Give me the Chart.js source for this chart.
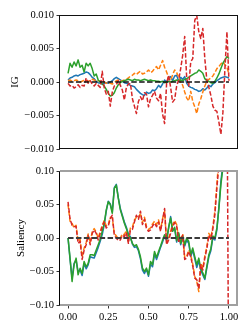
<!DOCTYPE html>
<html><head><meta charset="utf-8">
<script src="https://cdn.jsdelivr.net/npm/chart.js@4"></script>
<style>
html,body{margin:0;padding:0;background:#fff;}
#wrap{position:relative;width:249px;height:332px;overflow:hidden;}
canvas{position:absolute;left:0;}
#c1{top:0;width:249px;height:160px;}
#c2{top:160px;width:249px;height:172px;}
</style></head><body>
<div id="wrap"><canvas id="c1" width="249" height="160"></canvas><canvas id="c2" width="249" height="172"></canvas></div>
<script>
const xs=[0,0.0125,0.025,0.0375,0.05,0.0625,0.075,0.0875,0.1,0.1125,0.125,0.1375,0.15,0.1625,0.175,0.1875,0.2,0.2125,0.225,0.2375,0.25,0.2625,0.275,0.2875,0.3,0.3125,0.325,0.3375,0.35,0.3625,0.375,0.3875,0.4,0.4125,0.425,0.4375,0.45,0.4625,0.475,0.4875,0.5,0.5125,0.525,0.5375,0.55,0.5625,0.575,0.5875,0.6,0.6125,0.625,0.6375,0.65,0.6625,0.675,0.6875,0.7,0.7125,0.725,0.7375,0.75,0.7625,0.775,0.7875,0.8,0.8125,0.825,0.8375,0.85,0.8625,0.875,0.8875,0.9,0.9125,0.925,0.9375,0.95,0.9625,0.975,0.9875,1];

const igBlue=[0.0003,0.0006,0.0007,0.0009,0.0010,0.0009,0.0011,0.0012,0.0013,0.0015,
0.0014,0.0011,0.0007,0.0005,0.0001,-0.0001,-0.0002,-0.0003,-0.0002,-0.0001,
-0.0002,0.0000,0.0002,0.0005,0.0007,0.0005,0.0003,0.0001,-0.0001,-0.0002,
-0.0003,-0.0005,-0.0006,-0.0007,-0.0011,-0.0014,-0.0017,-0.0019,-0.0020,-0.0015,
-0.0017,-0.0016,-0.0012,-0.0013,-0.0010,-0.0005,-0.0008,-0.0003,0.0003,0.0000,
0.0006,0.0008,0.0002,0.0009,0.0010,0.0001,0.0007,0.0004,0.0008,-0.0002,
-0.0006,-0.0008,-0.0009,-0.0011,-0.0012,-0.0014,-0.0013,-0.0010,-0.0012,-0.0009,
-0.0005,-0.0007,-0.0003,-0.0001,0.0002,0.0004,0.0006,0.0007,0.0008,0.0007,
0.0006];
const igOrange=[0.0002,0.0003,0.0001,0.0002,0.0003,0.0002,0.0000,0.0001,0.0003,0.0002,
0.0001,0.0002,0.0004,0.0003,0.0001,0.0002,0.0001,-0.0001,0.0000,-0.0002,
-0.0001,-0.0002,-0.0003,-0.0001,0.0002,0.0003,0.0001,0.0002,0.0003,0.0004,
0.0006,0.0009,0.0010,0.0013,0.0011,0.0014,0.0016,0.0012,0.0013,0.0015,
0.0018,0.0014,0.0016,0.0020,0.0023,0.0018,0.0025,0.0032,0.0022,0.0015,
0.0006,0.0002,0.0011,0.0018,0.0014,0.0007,0.0000,-0.0005,-0.0015,-0.0024,
-0.0028,-0.0014,-0.0029,-0.0037,-0.0047,-0.0033,-0.0025,-0.0015,-0.0006,0.0001,
0.0004,0.0006,0.0009,0.0014,0.0020,0.0023,0.0027,0.0030,0.0026,0.0022,
0.0012];
const igGreen=[0.0013,0.0028,0.0022,0.0030,0.0024,0.0033,0.0022,0.0025,0.0015,0.0028,
0.0024,0.0028,0.0020,0.0009,0.0012,0.0003,0.0000,-0.0003,-0.0006,-0.0011,
-0.0017,-0.0021,-0.0020,-0.0016,-0.0009,-0.0004,-0.0001,0.0001,0.0002,0.0003,
0.0004,0.0003,0.0002,0.0004,0.0003,0.0003,0.0002,0.0003,0.0004,0.0003,
0.0002,0.0003,0.0002,0.0002,0.0001,0.0001,0.0000,0.0001,-0.0001,0.0000,
0.0001,0.0000,0.0001,0.0002,0.0003,0.0002,0.0003,0.0002,0.0004,0.0005,
0.0007,0.0009,0.0011,0.0013,0.0014,0.0018,0.0016,0.0013,0.0005,0.0002,
0.0001,-0.0001,-0.0002,0.0001,0.0006,0.0012,0.0020,0.0028,0.0033,0.0038,
0.0035];
const igRed=[-0.0002,-0.0006,-0.0005,-0.0009,-0.0007,-0.0004,-0.0008,-0.0005,-0.0006,0.0006,
-0.0002,0.0002,-0.0003,-0.0006,-0.0002,-0.0005,-0.0008,0.0016,-0.0009,-0.0018,
-0.0014,-0.0036,-0.0015,-0.0006,-0.0004,0.0002,-0.0005,-0.0012,-0.0027,-0.0008,
-0.0003,-0.0002,-0.0025,-0.0036,-0.0047,-0.0029,-0.0022,-0.0028,-0.0016,-0.0018,
-0.0037,-0.0025,-0.0020,-0.0014,-0.0024,-0.0028,-0.0017,-0.0048,-0.0062,-0.0002,
0.0010,-0.0008,-0.0030,-0.0026,-0.0006,0.0003,0.0020,0.0040,0.0068,0.0005,
-0.0006,0.0030,0.0035,0.0092,0.0099,0.0075,0.0065,0.0080,0.0035,0.0003,
-0.0008,-0.0020,-0.0036,-0.0042,-0.0044,-0.0060,-0.0078,-0.0045,0.0020,0.0075,
0.0002];

const salBlue=[0.000,-0.032,-0.060,-0.038,-0.033,-0.050,-0.048,-0.056,-0.038,-0.046,
-0.040,-0.028,-0.029,-0.030,-0.022,-0.014,-0.005,0.005,0.020,0.040,
0.055,0.051,0.039,0.075,0.080,0.060,0.044,0.034,0.024,0.016,
0.006,0.002,-0.009,-0.014,-0.013,-0.019,-0.031,-0.048,-0.053,-0.047,
-0.057,-0.039,-0.043,-0.024,-0.032,-0.023,-0.014,-0.006,0.003,-0.004,
0.014,0.032,0.012,0.014,-0.006,0.006,-0.010,0.001,-0.012,-0.003,
-0.008,-0.028,-0.018,-0.031,-0.044,-0.034,-0.048,-0.055,-0.062,-0.045,
-0.028,-0.019,0.000,-0.003,0.012,0.046,0.085,0.110,0.135,0.165,
0.205];
const salOrange=[0.050,0.025,0.022,0.015,0.019,-0.005,-0.002,-0.028,-0.015,-0.007,
0.006,-0.007,0.009,0.014,0.009,0.000,0.010,0.019,0.026,0.018,
0.020,0.031,0.030,0.007,0.003,-0.001,0.000,0.006,0.005,0.011,
-0.005,0.015,0.016,0.027,0.031,0.030,0.037,0.023,0.031,0.017,
0.013,0.015,0.021,0.025,0.020,0.027,0.013,0.029,0.040,-0.007,
0.000,0.010,0.020,0.026,0.020,-0.002,-0.001,0.006,-0.029,-0.027,
-0.018,-0.025,-0.039,-0.057,-0.065,-0.080,-0.038,-0.045,-0.027,-0.013,
0.007,0.001,0.017,0.040,0.080,0.120,0.160,0.190,0.230,0.260,
0.280];
const salGreen=[0.000,-0.030,-0.065,-0.040,-0.030,-0.055,-0.045,-0.053,-0.035,-0.043,
-0.038,-0.025,-0.025,-0.026,-0.018,-0.010,-0.002,0.010,0.022,0.042,
0.054,0.050,0.037,0.074,0.079,0.059,0.042,0.032,0.022,0.014,
0.004,0.000,-0.008,-0.012,-0.010,-0.017,-0.028,-0.045,-0.050,-0.045,
-0.055,-0.035,-0.040,-0.020,-0.029,-0.020,-0.012,-0.003,0.005,-0.002,
0.016,0.030,0.010,0.016,-0.004,0.008,-0.008,0.003,-0.010,0.000,
-0.005,-0.025,-0.015,-0.028,-0.040,-0.030,-0.046,-0.052,-0.060,-0.042,
-0.025,-0.016,0.003,0.000,0.015,0.044,0.080,0.105,0.130,0.160,
0.200];
const salRed=[0.054,0.028,0.019,0.017,0.017,-0.008,-0.005,-0.032,-0.018,-0.010,
0.004,-0.010,0.007,0.012,0.007,-0.003,0.007,0.017,0.024,0.015,
0.018,0.029,0.034,0.004,0.000,-0.004,-0.003,0.004,0.002,0.008,
-0.008,0.012,0.013,0.024,0.034,0.028,0.040,0.020,0.028,0.014,
0.010,0.012,0.018,0.022,0.017,0.024,0.010,0.027,0.044,-0.010,
-0.003,0.007,0.017,0.023,0.018,-0.005,-0.004,0.004,-0.032,-0.030,
-0.020,-0.028,-0.042,-0.060,-0.062,-0.076,-0.040,-0.048,-0.030,-0.016,
0.004,-0.002,0.014,0.035,0.075,0.110,0.160,0.180,0.220,0.250,
-0.300];

const igTicks=[-0.010,-0.005,0.000,0.005,0.010];
const igTickLabels=['\u22120.010','\u22120.005','0.000','0.005','0.010'];
const salTicks=[-0.10,-0.05,0.00,0.05,0.10];
const salTickLabels=['\u22120.10','\u22120.05','0.00','0.05','0.10'];
const xTicks=[0,0.25,0.5,0.75,1];
const xTickLabels=['0.00','0.25','0.50','0.75','1.00'];
const zeroX=[0,1];
const zeroY=[0,0];

Chart.defaults.font.family="'Liberation Serif','DejaVu Serif',serif";
Chart.defaults.font.size=10.5;
Chart.defaults.color='#000';

function pts(ys){return ys.map((y,i)=>({x:xs[i],y:y}));}
function zpts(){return zeroX.map((x,i)=>({x:x,y:zeroY[i]}));}

const C={blue:'#1f77b4',orange:'#ff7f0e',green:'#2ca02c',red:'#d62728'};

function sets(b,o,g,r,zc,zw){
  const base={pointRadius:0,borderWidth:1.5,tension:0,borderJoinStyle:'round',fill:false};
  return [
    Object.assign({},base,{data:zpts(),borderColor:zc,borderWidth:zw,borderDash:[5.5,2.4]}),
    Object.assign({},base,{data:pts(r),borderColor:C.red,borderDash:[4.5,2]}),
    Object.assign({},base,{data:pts(g),borderColor:C.green}),
    Object.assign({},base,{data:pts(o),borderColor:C.orange,borderDash:[4.5,2]}),
    Object.assign({},base,{data:pts(b),borderColor:C.blue})
  ];
}

const spinesTop={id:'spinesTop',afterDatasetsDraw(chart){
  const {ctx,chartArea:a}=chart;ctx.save();ctx.strokeStyle='#111';ctx.lineWidth=1;
  const l=Math.round(a.left)-0.5,r=Math.round(a.right)+0.5,t=Math.round(a.top)+0.5,b=Math.round(a.bottom)-0.5;
  ctx.strokeRect(l,t,r-l,b-t);ctx.restore();}};
const spinesBot={id:'spinesBot',afterDatasetsDraw(chart){
  const {ctx,chartArea:a}=chart;ctx.save();
  ctx.strokeStyle='#a0a0a0';ctx.lineWidth=2;
  ctx.beginPath();ctx.moveTo(a.left,a.top);ctx.lineTo(a.right,a.top);ctx.lineTo(a.right,a.bottom);ctx.lineTo(a.left,a.bottom);ctx.stroke();
  ctx.strokeStyle='#000';ctx.lineWidth=1;
  ctx.beginPath();ctx.moveTo(Math.round(a.left)-0.5,a.top+1);ctx.lineTo(Math.round(a.left)-0.5,a.bottom);ctx.stroke();
  ctx.restore();}};

function yScale(ticks,labels,min,max,title,tpad){
  return {type:'linear',min:min,max:max,
    afterBuildTicks:s=>{s.ticks=ticks.map(v=>({value:v}));},
    afterFit:s=>{s.width=60;},
    ticks:{callback:(v,i)=>labels[i],padding:2.5,font:{size:10.5}},
    grid:{display:true,drawOnChartArea:false,drawTicks:true,tickLength:3.5,color:'#000',lineWidth:0.8},
    border:{display:false},
    title:{display:true,text:title,font:{size:11},padding:{top:tpad,bottom:0}}};
}

new Chart(document.getElementById('c1'),{type:'line',
  data:{datasets:sets(igBlue,igOrange,igGreen,igRed,'#111',1.6)},
  options:{responsive:false,animation:false,devicePixelRatio:1,
    layout:{padding:{left:0,top:15,right:12,bottom:11}},
    plugins:{legend:{display:false},tooltip:{enabled:false}},
    scales:{
      x:{type:'linear',min:-0.05,max:1.05,display:false},
      y:yScale(igTicks,igTickLabels,-0.010,0.010,'IG',8.4)
    }},plugins:[spinesTop]});

new Chart(document.getElementById('c2'),{type:'line',
  data:{datasets:sets(salBlue,salOrange,salGreen,salRed,'#3a3a3a',2)},
  options:{responsive:false,animation:false,devicePixelRatio:1,
    layout:{padding:{left:0,top:11,right:12,bottom:0}},
    plugins:{legend:{display:false},tooltip:{enabled:false}},
    scales:{
      x:{type:'linear',min:-0.05,max:1.05,
        afterBuildTicks:s=>{s.ticks=xTicks.map(v=>({value:v}));},
        afterFit:s=>{s.height=27;},
        ticks:{callback:(v,i)=>xTickLabels[i],padding:2,maxRotation:0,font:{size:10.5}},
        grid:{display:true,drawOnChartArea:false,drawTicks:true,tickLength:3.5,color:'#000',lineWidth:0.8},
        border:{display:false}},
      y:yScale(salTicks,salTickLabels,-0.10,0.10,'Saliency',15)
    }},plugins:[spinesBot]});
</script>
</body></html>
